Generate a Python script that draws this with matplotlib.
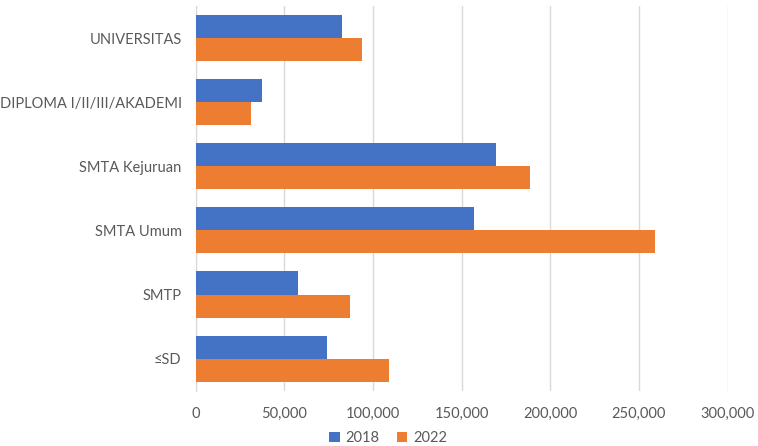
import numpy as np
import matplotlib.pyplot as plt
from matplotlib.ticker import FuncFormatter

# data (bottom to top)
categories = ['≤SD', 'SMTP', 'SMTA Umum', 'SMTA Kejuruan',
              'DIPLOMA I/II/III/AKADEMI', 'UNIVERSITAS']
val_2018 = [74100, 57500, 157200, 169600, 37600, 82600]
val_2022 = [109300, 86900, 258900, 188600, 31500, 93700]

blue = '#4472C4'
orange = '#ED7D31'
txt = '#595959'

plt.rcParams['font.family'] = ['Lato', 'DejaVu Sans']

fig = plt.figure(figsize=(7.58, 4.46), dpi=100)
ax = fig.add_axes([0.258, 0.124, 0.702, 0.8625])

y = np.arange(len(categories))
h = 0.36
ax.barh(y + h/2, val_2018, height=h, color=blue, label='2018', zorder=3)
ax.barh(y - h/2, val_2022, height=h, color=orange, label='2022', zorder=3)

ax.set_xlim(0, 300000)
ax.set_ylim(-0.5, len(categories) - 0.5)
ax.set_xticks(np.arange(0, 300001, 50000))
ax.xaxis.set_major_formatter(FuncFormatter(lambda v, p: f'{int(v):,}'))
ax.set_yticks(y)
ax.set_yticklabels(categories)

ax.grid(axis='x', color='#D9D9D9', linewidth=1, zorder=0)
for s in ['top', 'right', 'bottom']:
    ax.spines[s].set_visible(False)
ax.spines['left'].set_color('#D9D9D9')
ax.tick_params(axis='both', length=0, labelsize=10.5, colors=txt)
ax.tick_params(axis='x', pad=12)
ax.tick_params(axis='y', pad=10)

fig.legend(loc='center', bbox_to_anchor=(0.512, 0.017), ncol=2, frameon=False,
           fontsize=10.5, labelcolor=txt, handlelength=0.7, handleheight=0.7,
           handletextpad=0.4, columnspacing=1.2)

fig.savefig('out.png', dpi=100)
